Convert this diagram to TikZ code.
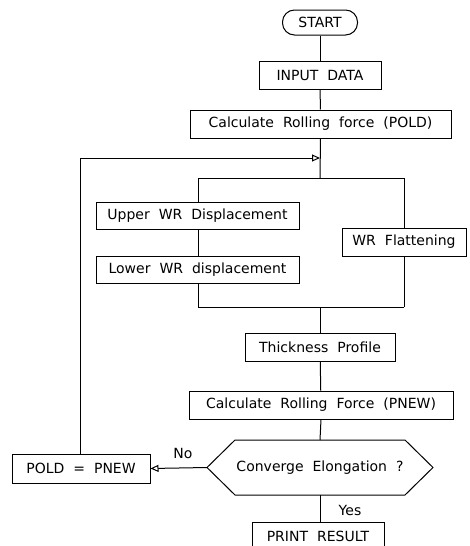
\documentclass[tikz,border=0pt]{standalone}
\usepackage{fontspec}
\setmainfont{DejaVu Sans}
\usetikzlibrary{arrows.meta}
\newcommand{\flowfont}{\fontsize{14}{16}\selectfont\spaceskip=9pt plus 1pt\relax}
\begin{document}
\begin{tikzpicture}[x=1pt,y=-1pt,line width=1pt,
  box/.style={draw,rectangle,inner sep=0pt,minimum height=28pt,font=\flowfont},
  lbl/.style={inner sep=0pt,font=\flowfont},
  tip/.style={-{Triangle[open,length=8pt,width=7pt]}}]
\useasboundingbox (0,0) rectangle (470,546);
% nodes
\node[box,minimum width=75pt,minimum height=25pt,rounded corners=12pt] (start) at (320,22.5) {START};
\node[box,minimum width=122pt] (input) at (320,75) {INPUT DATA};
\node[box,minimum width=261pt] (pold) at (320.5,124) {Calculate Rolling force (POLD)};
\node[box,minimum width=203pt,minimum height=27pt] (upper) at (197.5,215.5) {Upper WR Displacement};
\node[box,minimum width=124pt] (flat) at (404,242) {WR Flattening};
\node[box,minimum width=203pt,minimum height=27pt] (lower) at (197.5,269.5) {Lower WR displacement};
\node[box,minimum width=150pt] (thick) at (320,347) {Thickness Profile};
\node[box,minimum width=264pt] (pnew) at (321,405) {Calculate Rolling Force (PNEW)};
\node[lbl] (conv) at (320,467.5) {Converge Elongation ?};
\node[box,minimum width=138pt,minimum height=29pt] (assign) at (81,468.5) {POLD = PNEW};
\node[box,minimum width=132pt] (print) at (318,536) {PRINT RESULT};
\node[lbl] (no) at (183,453) {No};
\node[lbl] (yes) at (350,510) {Yes};
% hexagon
\coordinate (hL) at (207,467.5);
\coordinate (hTL) at (235,440);
\coordinate (hT) at (320,440);
\coordinate (hTR) at (405,440);
\coordinate (hR) at (433,467.5);
\coordinate (hBR) at (405,495);
\coordinate (hB) at (320,495);
\coordinate (hBL) at (235,495);
\draw (hL) -- (hTL) -- (hTR) -- (hR) -- (hBR) -- (hBL) -- cycle;
% junction coordinates
\coordinate (split) at (320,178);
\coordinate (splitL) at (198,178);
\coordinate (splitR) at (404,178);
\coordinate (join) at (320,307);
\coordinate (joinL) at (198,307);
\coordinate (joinR) at (404,307);
\coordinate (ret) at (320,158);
\coordinate (retL) at (80,158);
% connectors
\draw (start) -- (input);
\draw (input) -- (pold);
\draw (pold.south) -- (split);
\draw (splitL) -- (splitR);
\draw (splitL) -- (splitL |- upper.north);
\draw (upper.south -| splitL) -- (lower.north -| splitL);
\draw (lower.south -| joinL) -- (joinL);
\draw (splitR) -- (flat.north -| splitR);
\draw (flat.south -| joinR) -- (joinR);
\draw (joinL) -- (joinR);
\draw (join) -- (thick.north);
\draw (thick) -- (pnew);
\draw (pnew.south) -- (hT);
\draw (hB) -- (print.north -| hB);
\draw[tip] (hL) -- (assign.east);
\draw[tip] (assign.north -| retL) -- (retL) -- (ret);
\end{tikzpicture}
\end{document}
